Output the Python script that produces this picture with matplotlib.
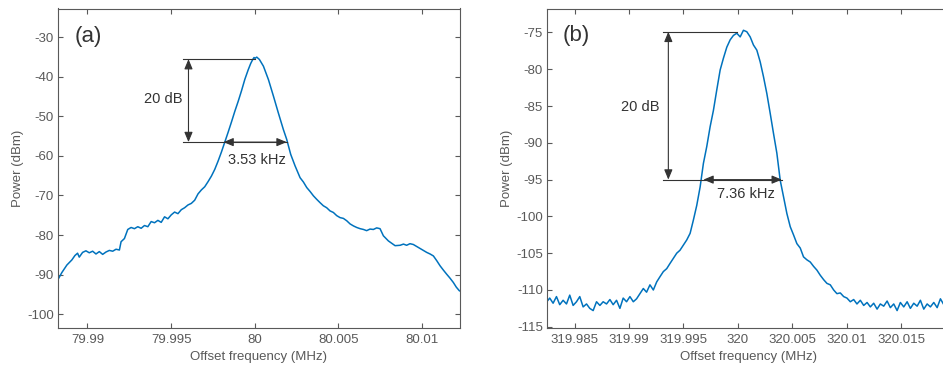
import matplotlib.pyplot as plt
import numpy as np

# panel (a) spectrum
freq_a = [79.98817, 79.98847, 79.98877, 79.98907, 79.98925, 79.98941, 79.98951, 79.98971,
          79.98991, 79.99011, 79.99031, 79.99051, 79.99071, 79.99091, 79.99111, 79.99131,
          79.99151, 79.99171, 79.99191, 79.99201, 79.99221, 79.99241, 79.99261, 79.99281,
          79.99301, 79.99321, 79.99341, 79.99361, 79.99381, 79.99401, 79.99421, 79.99441,
          79.99461, 79.99481, 79.99501, 79.99521, 79.99541, 79.99561, 79.99581, 79.99601,
          79.99621, 79.99641, 79.99661, 79.99681, 79.99701, 79.99721, 79.99741, 79.99761,
          79.99781, 79.99801, 79.99821, 79.99841, 79.99861, 79.99881, 79.99901, 79.99921,
          79.99941, 79.99961, 79.99976, 79.99988, 79.99996, 80.00002, 80.00012, 80.00028,
          80.00052, 80.00082, 80.00112, 80.00141, 80.00171, 80.00191, 80.00215, 80.00241,
          80.00271, 80.00291, 80.00311, 80.00331, 80.00351, 80.00371, 80.00390, 80.00410,
          80.00430, 80.00450, 80.00470, 80.00490, 80.00510, 80.00530, 80.00550, 80.00570,
          80.00590, 80.00610, 80.00630, 80.00650, 80.00669, 80.00689, 80.00709, 80.00729,
          80.00749, 80.00769, 80.00799, 80.00819, 80.00839, 80.00869, 80.00889, 80.00908,
          80.00928, 80.00948, 80.00968, 80.00988, 80.01008, 80.01028, 80.01048, 80.01068,
          80.01088, 80.01108, 80.01128, 80.01147, 80.01167, 80.01187, 80.01205, 80.01223,
          80.01235]
power_a = [-91.8, -89.5, -87.6, -86.3, -85.2, -84.6, -85.6, -84.4,
           -84.0, -84.5, -84.1, -84.8, -84.2, -84.9, -84.3, -83.9,
           -84.1, -83.6, -83.8, -81.7, -80.9, -78.6, -78.1, -78.4,
           -77.9, -78.3, -77.6, -77.9, -76.6, -76.9, -76.3, -76.8,
           -75.4, -75.9, -74.9, -74.2, -74.6, -73.6, -73.1, -72.4,
           -72.0, -71.2, -69.6, -68.6, -67.8, -66.5, -65.1, -63.4,
           -61.3, -59.0, -56.5, -54.0, -51.4, -48.7, -46.2, -43.5,
           -40.6, -38.2, -36.6, -35.6, -35.1, -35.3, -35.0, -35.6,
           -37.3, -40.7, -44.9, -49.1, -53.3, -55.8, -59.6, -62.5,
           -65.5, -66.6, -68.0, -69.0, -70.1, -71.0, -71.8, -72.6,
           -73.1, -73.9, -74.3, -75.1, -75.6, -75.8, -76.4, -77.2,
           -77.7, -78.1, -78.4, -78.6, -78.9, -78.5, -78.6, -78.2,
           -78.4, -80.2, -81.5, -82.1, -82.7, -82.6, -82.3, -82.6,
           -82.2, -82.4, -82.9, -83.4, -83.9, -84.4, -84.8, -85.3,
           -86.5, -87.8, -88.9, -89.9, -90.9, -92.0, -93.2, -94.1,
           -94.3]

# panel (b) spectrum
freq_b = [319.98245, 319.98272, 319.98303, 319.98334, 319.98364, 319.98395, 319.98426,
          319.98456, 319.98487, 319.98518, 319.98548, 319.98579, 319.98610, 319.98640,
          319.98671, 319.98702, 319.98733, 319.98763, 319.98794, 319.98825, 319.98855,
          319.98886, 319.98917, 319.98947, 319.98978, 319.99009, 319.99040, 319.99070,
          319.99101, 319.99132, 319.99162, 319.99193, 319.99224, 319.99255, 319.99285,
          319.99316, 319.99347, 319.99377, 319.99408, 319.99439, 319.99469, 319.99500,
          319.99531, 319.99562, 319.99592, 319.99623, 319.99654, 319.99684, 319.99715,
          319.99746, 319.99776, 319.99807, 319.99838, 319.99868, 319.99899, 319.99930,
          319.99960, 319.99991, 320.00022, 320.00052, 320.00083, 320.00114, 320.00144,
          320.00175, 320.00206, 320.00236, 320.00267, 320.00298, 320.00328, 320.00359,
          320.00390, 320.00420, 320.00451, 320.00482, 320.00512, 320.00543, 320.00574,
          320.00604, 320.00635, 320.00666, 320.00697, 320.00727, 320.00758, 320.00789,
          320.00819, 320.00850, 320.00881, 320.00911, 320.00942, 320.00973, 320.01003,
          320.01034, 320.01065, 320.01095, 320.01126, 320.01157, 320.01188, 320.01218,
          320.01249, 320.01280, 320.01310, 320.01341, 320.01372, 320.01402, 320.01433,
          320.01464, 320.01494, 320.01525, 320.01556, 320.01586, 320.01617, 320.01648,
          320.01678, 320.01709, 320.01740, 320.01770, 320.01801, 320.01832, 320.01862,
          320.01893, 320.01950]
power_b = [-111.6, -111.1, -111.8, -110.9, -112.0, -111.4, -111.9,
           -110.7, -112.1, -111.6, -110.9, -112.3, -111.9, -112.5,
           -112.8, -111.6, -112.1, -111.6, -111.9, -111.3, -112.0,
           -111.4, -112.5, -111.1, -111.6, -110.9, -111.6, -111.2,
           -110.5, -109.8, -110.3, -109.3, -110.0, -108.9, -108.2,
           -107.5, -107.1, -106.4, -105.7, -105.0, -104.6, -103.9,
           -103.2, -102.3, -100.5, -98.5, -96.0, -92.8, -90.5,
           -87.8, -85.6, -82.8, -80.1, -78.5, -77.0, -76.0,
           -75.4, -75.1, -75.6, -74.7, -74.9, -75.6, -76.7,
           -77.4, -79.0, -81.0, -83.3, -86.0, -88.7, -91.4,
           -95.1, -97.3, -99.6, -101.4, -102.5, -103.7, -104.3,
           -105.5, -105.9, -106.2, -106.8, -107.3, -108.0, -108.6,
           -109.1, -109.3, -110.0, -110.5, -110.4, -110.9, -111.1,
           -111.6, -111.3, -111.9, -111.4, -112.1, -111.7, -112.3,
           -111.8, -112.6, -111.9, -112.2, -111.5, -112.4, -111.9,
           -112.8, -111.7, -112.3, -111.6, -112.5, -111.8, -112.2,
           -111.4, -112.6, -111.9, -112.3, -111.7, -112.4, -111.2,
           -112.0, -112.3]

LINE = '#0072BD'
GREY = '#595959'
DARK = '#333333'

plt.rcParams['font.family'] = ['Liberation Sans', 'DejaVu Sans']
plt.rcParams['axes.unicode_minus'] = False

fig = plt.figure(figsize=(9.43, 3.71), dpi=100)
ax1 = fig.add_axes([58 / 943, 1 - 327.5 / 371, 402 / 943, 319 / 371])
ax2 = fig.add_axes([547 / 943, 1 - 327.5 / 371, 403 / 943, 319 / 371])


def style(ax):
    for s in ax.spines.values():
        s.set_color(GREY)
        s.set_linewidth(0.8)
    ax.tick_params(direction='in', length=3.5, width=0.8, color=GREY,
                   labelcolor=GREY, labelsize=9.5, top=True, right=True, pad=3)
    ax.tick_params(axis='x', pad=5)
    ax.set_xlabel('Offset frequency (MHz)', color=GREY, fontsize=9.5, labelpad=3)
    ax.set_ylabel('Power (dBm)', color=GREY, fontsize=9.5, labelpad=2)


def dim(ax, p1, p2):
    # double headed dimension arrow
    ax.annotate('', xy=p2, xytext=p1,
                arrowprops=dict(arrowstyle='<|-|>,head_length=0.6,head_width=0.25',
                                color=DARK, lw=0.8, mutation_scale=10,
                                shrinkA=0, shrinkB=0))


# (a)
ax1.plot(freq_a, power_a, color=LINE, lw=1.1)
ax1.set_xlim(79.98824, 80.01227)
ax1.set_ylim(-103.4, -22.7)
ax1.set_xticks([79.99, 79.995, 80, 80.005, 80.01])
ax1.set_xticklabels(['79.99', '79.995', '80', '80.005', '80.01'])
ax1.set_yticks(np.arange(-100, -29, 10))
style(ax1)
ax1.plot([79.99574, 80.00002], [-35.5, -35.5], color=DARK, lw=0.8)
ax1.plot([79.99574, 80.00191], [-56.5, -56.5], color=DARK, lw=0.8)
dim(ax1, (79.99604, -35.5), (79.99604, -56.5))
dim(ax1, (79.99813, -56.5), (80.00191, -56.5))
ax1.text(79.99454, -45.5, '20 dB', color=DARK, fontsize=10.5, ha='center', va='center')
ax1.text(80.00012, -60.9, '3.53 kHz', color=DARK, fontsize=10.5, ha='center', va='center')
ax1.text(79.99006, -29.7, '(a)', color=DARK, fontsize=16, ha='center', va='center')

# (b)
ax2.plot(freq_b, power_b, color=LINE, lw=1.1)
ax2.set_xlim(319.98247, 320.0195)
ax2.set_ylim(-115.1, -71.74)
ax2.set_xticks([319.985, 319.99, 319.995, 320, 320.005, 320.01, 320.015])
ax2.set_xticklabels(['319.985', '319.99', '319.995', '320', '320.005', '320.01', '320.015'])
ax2.set_yticks(np.arange(-115, -74, 5))
style(ax2)
ax2.plot([319.99310, 319.99991], [-74.9, -74.9], color=DARK, lw=0.8)
ax2.plot([319.99310, 320.00405], [-95.0, -95.0], color=DARK, lw=0.8)
dim(ax2, (319.99362, -74.9), (319.99362, -95.0))
dim(ax2, (319.99684, -95.0), (320.00405, -95.0))
ax2.text(319.99107, -85.1, '20 dB', color=DARK, fontsize=10.5, ha='center', va='center')
ax2.text(320.00071, -97.0, '7.36 kHz', color=DARK, fontsize=10.5, ha='center', va='center')
ax2.text(319.98512, -75.4, '(b)', color=DARK, fontsize=16, ha='center', va='center')

fig.savefig('out.png', dpi=100)
